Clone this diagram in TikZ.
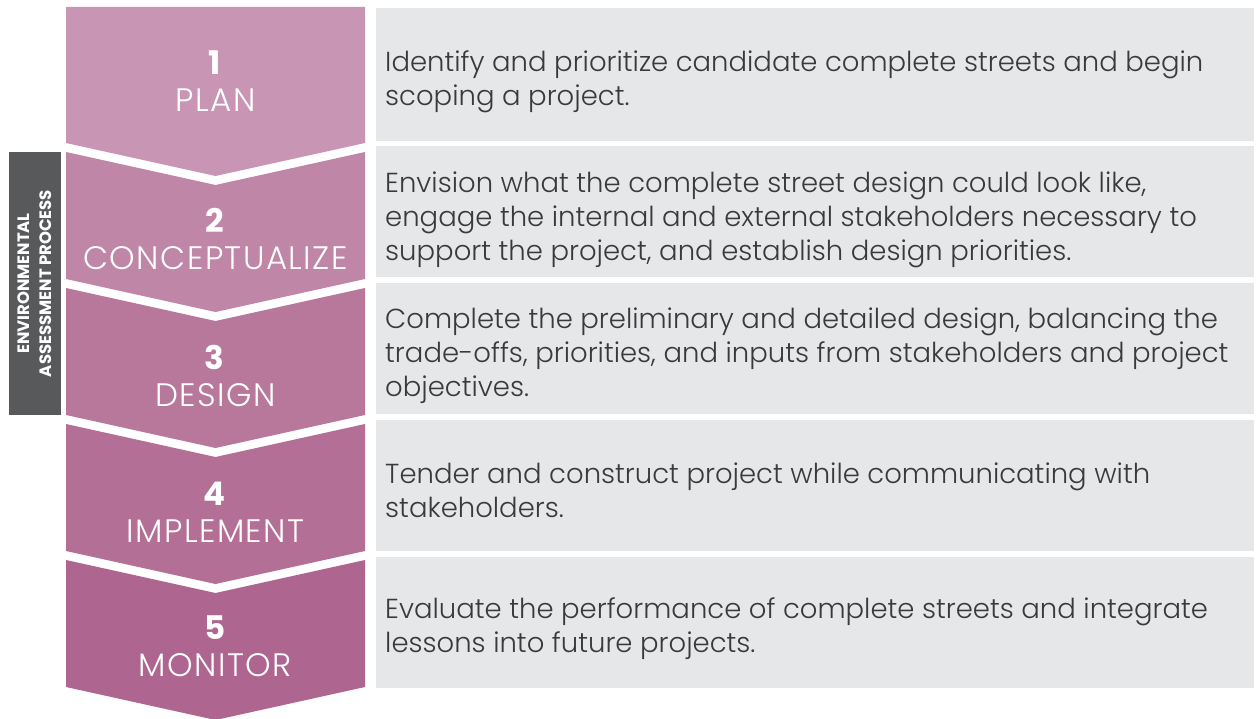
\documentclass[tikz,border=0pt]{standalone}
\usepackage{fontspec}
\setmainfont{Poppins}[UprightFont={* Light}, BoldFont={* Bold}]
\usetikzlibrary{positioning}

\definecolor{planpink}{HTML}{C896B4}
\definecolor{conceptpink}{HTML}{BF86A7}
\definecolor{designpink}{HTML}{B8789C}
\definecolor{implpink}{HTML}{B36F96}
\definecolor{monitorpink}{HTML}{AE6690}
\definecolor{boxgray}{HTML}{E6E7E8}
\definecolor{bargray}{HTML}{58595B}
\definecolor{textgray}{HTML}{3A3A3C}

\tikzset{
	steplabel/.style={text=white, align=center, inner sep=0pt, font=\fontsize{32.5}{37}\selectfont\addfontfeatures{LetterSpace=4.5}},
	desctext/.style={text=textgray, align=left, anchor=west, inner sep=0pt, font=\fontsize{27.5}{34}\selectfont},
	descbox/.style={fill=boxgray},
}

\begin{document}
\begin{tikzpicture}[x=1pt, y=-1pt]
		\useasboundingbox (0,0) rectangle (1258,719);
		
		% Chevrons
		\fill[planpink] (66,7) -- (365,7) -- (365,143) -- (215.5,176) -- (66,143) -- cycle;
		\foreach \i/\col in {1/conceptpink, 2/designpink, 3/implpink, 4/monitorpink} {
			\pgfmathsetmacro{\ttop}{152+136*(\i-1)}
			\pgfmathsetmacro{\tbot}{143+136*\i}
			\fill[\col] (66,\ttop) -- (215.5,\ttop+33) -- (365,\ttop) -- (365,\tbot) -- (215.5,\tbot+33) -- (66,\tbot) -- cycle;
		}
		
		% Grey boxes
		\fill[descbox] (376,8) rectangle (1254,141);
		\foreach \i in {1,...,4} {
			\fill[descbox] (376,{146+137*(\i-1)}) rectangle (1254,{277+137*(\i-1)});
		}
		
		% Step labels
		\node[steplabel] (plan) at (215.5,81.5) {\textbf{1}\\PLAN};
		\node[steplabel] (concept) at (215.5,238.5) {\textbf{2}\\CONCEPTUALIZE};
		\node[steplabel] (design) at (215.5,375.5) {\textbf{3}\\DESIGN};
		\node[steplabel] (implement) at (215.5,512) {\textbf{4}\\IMPLEMENT};
		\node[steplabel] (monitor) at (215.5,646) {\textbf{5}\\MONITOR};
		
		% Descriptions
		\node[desctext] (plantxt) at (385,82) {Identify and prioritize candidate complete streets and begin\\scoping a project.};
		\node[desctext] (concepttxt) at (385,220) {Envision what the complete street design could look like,\\engage the internal and external stakeholders necessary to\\support the project, and establish design priorities.};
		\node[desctext] (designtxt) at (385,356) {Complete the preliminary and detailed design, balancing the\\trade-offs, priorities, and inputs from stakeholders and project\\objectives.};
		\node[desctext] (implementtxt) at (385,490) {Tender and construct project while communicating with\\stakeholders.};
		\node[desctext] (monitortxt) at (385,629) {Evaluate the performance of complete streets and integrate\\lessons into future projects.};
		
		% Side bar
		\node[fill=bargray, rotate=90, minimum width=263, minimum height=52, inner sep=0pt, text=white, align=center,
			font=\bfseries\fontsize{16.5}{22}\selectfont] (envbar) at (35,283.5) {ENVIRONMENTAL\\ASSESSMENT PROCESS};
	\end{tikzpicture}
\end{document}
